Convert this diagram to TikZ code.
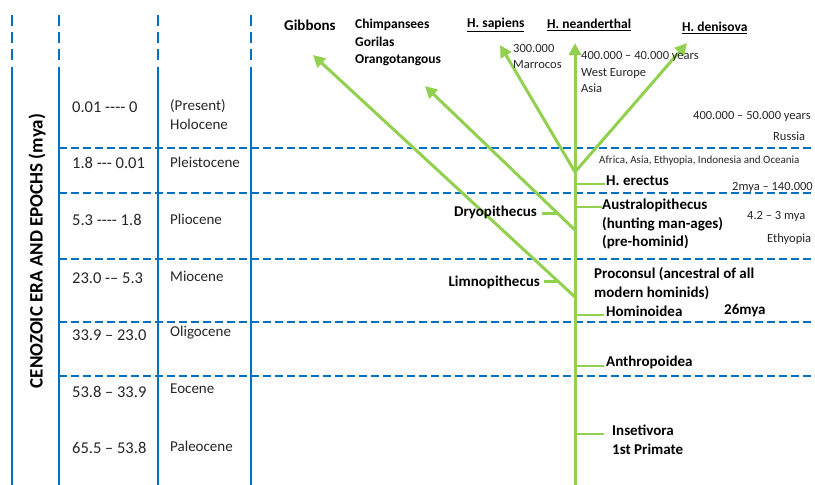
\documentclass[tikz,border=0pt]{standalone}
\usepackage{fontspec}
\setmainfont{Carlito}
\usetikzlibrary{arrows.meta,calc}
\definecolor{lineblue}{RGB}{0,112,192}
\definecolor{tree}{RGB}{146,208,80}
\definecolor{txt}{RGB}{38,38,38}
\newcommand\hy{-\kern0pt}
\begin{document}
\begin{tikzpicture}[x=1pt,y=-1pt,
  vline/.style={lineblue, line width=2.2pt},
  vdash/.style={lineblue, line width=2.2pt, dash pattern=on 11pt off 6pt},
  hdash/.style={lineblue, line width=2pt, dash pattern=on 8pt off 4pt},
  branch/.style={tree, line width=3pt},
  arrowbr/.style={tree, line width=3pt, -{Triangle[length=12pt,width=12pt]}},
  tickline/.style={tree, line width=2.5pt},
  plain/.style={inner sep=0pt, anchor=west, text=txt, font=\fontsize{15}{19}\selectfont, align=left},
  agetxt/.style={inner sep=0pt, anchor=west, text=txt, font=\fontsize{16.5}{19}\selectfont, align=left},
  lab/.style={inner sep=0pt, anchor=west, font=\bfseries\fontsize{15}{18.5}\selectfont, align=left},
  toplab/.style={inner sep=0pt, anchor=west, font=\bfseries\fontsize{13.5}{17.5}\selectfont, align=left},
  small/.style={inner sep=0pt, anchor=west, text=txt, font=\fontsize{12.5}{16.5}\selectfont, align=left},
  tiny/.style={inner sep=0pt, anchor=west, text=txt, font=\fontsize{11}{13}\selectfont, align=left},
]
\useasboundingbox (0,0) rectangle (815,485);
\fill[white] (0,0) rectangle (815,485);

% ---- grid ----
\foreach \x in {12,59,158,251} {
  \draw[vdash] (\x,15) -- (\x,62);
  \draw[vline] (\x,67) -- (\x,485);
}
\foreach \y in {148,193,259,322,376} {
  \draw[hdash] (59,\y) -- (815,\y);
}

% ---- era title ----
\node[inner sep=0pt, rotate=90, text=black, font=\bfseries\fontsize{19}{22}\selectfont] (era) at (37,251) {CENOZOIC ERA AND EPOCHS (mya)};

% ---- ages ----
\node[agetxt] (a1) at (72,107) {0.01 \hy\hy\hy\hy{} 0};
\node[agetxt] (a2) at (72,163) {1.8 \hy\hy\hy{} 0.01};
\node[agetxt] (a3) at (72,220) {5.3 \hy\hy\hy\hy{} 1.8};
\node[agetxt] (a4) at (72,278) {23.0 \hy– 5.3};
\node[agetxt] (a5) at (72,335) {33.9 – 23.0};
\node[agetxt] (a6) at (72,392) {53.8 – 33.9};
\node[agetxt] (a7) at (72,448) {65.5 – 53.8};

% ---- epochs ----
\node[plain] (e1) at (170,114.5) {(Present)\\Holocene};
\node[plain] (e2) at (170,162) {Pleistocene};
\node[plain] (e3) at (170,219) {Pliocene};
\node[plain] (e4) at (170,276) {Miocene};
\node[plain] (e5) at (170,333) {Oligocene};
\node[plain] (e6) at (170,389) {Eocene};
\node[plain] (e7) at (170,446) {Paleocene};

% ---- tree coordinates ----
\coordinate (tb) at (575,485);
\coordinate (neat) at (575,43);
\coordinate (fork) at (575,172);
\coordinate (sapt) at (500,45);
\coordinate (dent) at (687,43);
\coordinate (chj) at (575,230);
\coordinate (cht) at (425,86);
\coordinate (gij) at (575,297);
\coordinate (git) at (313,55);

\draw[arrowbr] (tb) -- (neat);
\draw[arrowbr] (fork) -- (sapt);
\draw[arrowbr] (fork) -- (dent);
\draw[arrowbr] (chj) -- (cht);
\draw[arrowbr] (gij) -- (git);

% ---- ticks ----
\coordinate (er0) at (575,184); \coordinate (er1) at (605,184);
\coordinate (au0) at (575,207); \coordinate (au1) at (602,207);
\coordinate (ho0) at (575,315); \coordinate (ho1) at (604,315);
\coordinate (an0) at (575,366); \coordinate (an1) at (604,366);
\coordinate (in0) at (575,434); \coordinate (in1) at (604,434);
\coordinate (dr0) at ($(chj)!0.113!(cht)$); \coordinate (dr1) at ($(dr0)+(-16,0)$);
\coordinate (li0) at ($(gij)!0.065!(git)$); \coordinate (li1) at ($(li0)+(-14,0)$);
\foreach \p in {er,au,ho,an,in,dr,li} { \draw[tickline] (\p0) -- (\p1); }

% ---- tree labels ----
\node[lab] (erectus) at (606,181) {H. erectus};
\node[lab] (austra) at (602,224) {Australopithecus\\(hunting man-ages)\\(pre-hominid)};
\node[lab, anchor=east] (dryo) at (537,212) {Dryopithecus};
\node[lab, anchor=east] (limno) at (540,282) {Limnopithecus};
\node[lab] (procon) at (594,283.5) {Proconsul (ancestral of all\\modern hominids)};
\node[lab] (homin) at (606,311) {Hominoidea};
\node[lab] (mya26) at (724,311) {26mya};
\node[lab] (anthro) at (606,362) {Anthropoidea};
\node[lab] (inset) at (612,440) {Insetivora\\1st Primate};

% ---- top labels ----
\node[lab] (gib) at (284,25) {Gibbons};
\node[toplab] (chimp) at (355,42.5) {Chimpansees\\Gorilas\\Orangotangous};
\node[toplab] (sap) at (467,25) {\underline{H. sapiens}};
\node[toplab] (nea) at (547,25) {\underline{H. neanderthal}};
\node[toplab] (den) at (682,28) {\underline{H. denisova}};

% ---- small notes ----
\node[small] (n1) at (513,56.5) {300.000\\Marrocos};
\node[small] (n2) at (581,72) {400.000 – 40.000 years\\West Europe\\Asia};
\node[small] (n3) at (693,116) {400.000 – 50.000 years};
\node[small] (n4) at (773,136) {Russia};
\node[tiny] (n5) at (599,161) {Africa, Asia, Ethyopia, Indonesia and Oceania};
\node[small] (n6) at (732,187) {2mya – 140.000};
\node[small] (n7) at (747,216) {4.2 – 3 mya};
\node[small] (n8) at (767,239) {Ethyopia};
\end{tikzpicture}
\end{document}
